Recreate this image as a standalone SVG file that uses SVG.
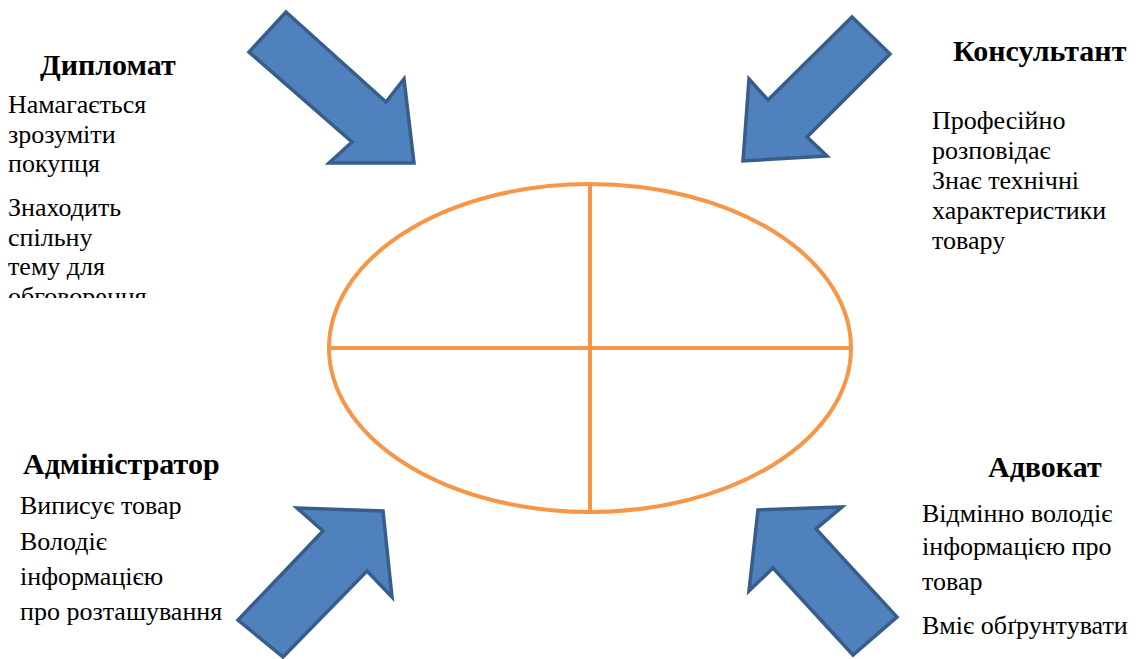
<svg xmlns="http://www.w3.org/2000/svg" width="1144" height="659" viewBox="0 0 1144 659">
  <defs>
    <clipPath id="clipDip">
      <rect x="0" y="0" width="320" height="298"/>
    </clipPath>
  </defs>
  <rect x="0" y="0" width="1144" height="659" fill="#ffffff"/>

  <g id="center-ellipse" fill="none" stroke="#f79646" stroke-width="4">
    <ellipse cx="590" cy="348" rx="261" ry="164"/>
    <line x1="590" y1="184" x2="590" y2="512"/>
    <line x1="329" y1="348" x2="851" y2="348"/>
  </g>

  <g id="connectors" fill="#4f81bd" stroke="#385d8a" stroke-width="3.5" stroke-linejoin="miter">
    <polygon points="286,12 386,102 404,79 414,163 329,163 352,142 249,52"/>
    <polygon points="852,17 890,54 807,137 827,156 743,161 749,79 768,100"/>
    <polygon points="297,508 383,511 392,597 367,571 283,657 238,620 323,531"/>
    <polygon points="758,510 842,507 816,529 897,617 853,655 773,568 749,591"/>
  </g>

  <g id="node-diplomat" fill="#000000">
    <text x="40" y="75" font-family="Liberation Serif" font-size="30" font-weight="bold">Дипломат</text>
    <g clip-path="url(#clipDip)">
      <text x="8" y="113" font-family="Liberation Serif" font-size="26">Намагається</text>
      <text x="8" y="143" font-family="Liberation Serif" font-size="26">зрозуміти</text>
      <text x="8" y="172" font-family="Liberation Serif" font-size="26">покупця</text>
      <text x="8" y="216" font-family="Liberation Serif" font-size="26">Знаходить</text>
      <text x="8" y="246" font-family="Liberation Serif" font-size="26">спільну</text>
      <text x="8" y="275" font-family="Liberation Serif" font-size="26">тему для</text>
      <text x="8" y="305" font-family="Liberation Serif" font-size="26">обговорення</text>
    </g>
  </g>

  <g id="node-consultant" fill="#000000">
    <text x="953" y="61" font-family="Liberation Serif" font-size="30" font-weight="bold">Консультант</text>
    <text x="932" y="129" font-family="Liberation Serif" font-size="26">Професійно</text>
    <text x="932" y="159" font-family="Liberation Serif" font-size="26">розповідає</text>
    <text x="932" y="189" font-family="Liberation Serif" font-size="26">Знає технічні</text>
    <text x="932" y="219" font-family="Liberation Serif" font-size="26">характеристики</text>
    <text x="932" y="249" font-family="Liberation Serif" font-size="26">товару</text>
  </g>

  <g id="node-administrator" fill="#000000">
    <text x="23" y="474" font-family="Liberation Serif" font-size="30" font-weight="bold">Адміністратор</text>
    <text x="20" y="514" font-family="Liberation Serif" font-size="26">Виписує товар</text>
    <text x="20" y="550" font-family="Liberation Serif" font-size="26">Володіє</text>
    <text x="20" y="585" font-family="Liberation Serif" font-size="26">інформацією</text>
    <text x="20" y="620" font-family="Liberation Serif" font-size="26">про розташування</text>
  </g>

  <g id="node-advocate" fill="#000000">
    <text x="988" y="477" font-family="Liberation Serif" font-size="30" font-weight="bold">Адвокат</text>
    <text x="922" y="522" font-family="Liberation Serif" font-size="26">Відмінно володіє</text>
    <text x="922" y="555" font-family="Liberation Serif" font-size="26">інформацією про</text>
    <text x="922" y="590" font-family="Liberation Serif" font-size="26">товар</text>
    <text x="922" y="634" font-family="Liberation Serif" font-size="26">Вміє обґрунтувати</text>
  </g>
</svg>
